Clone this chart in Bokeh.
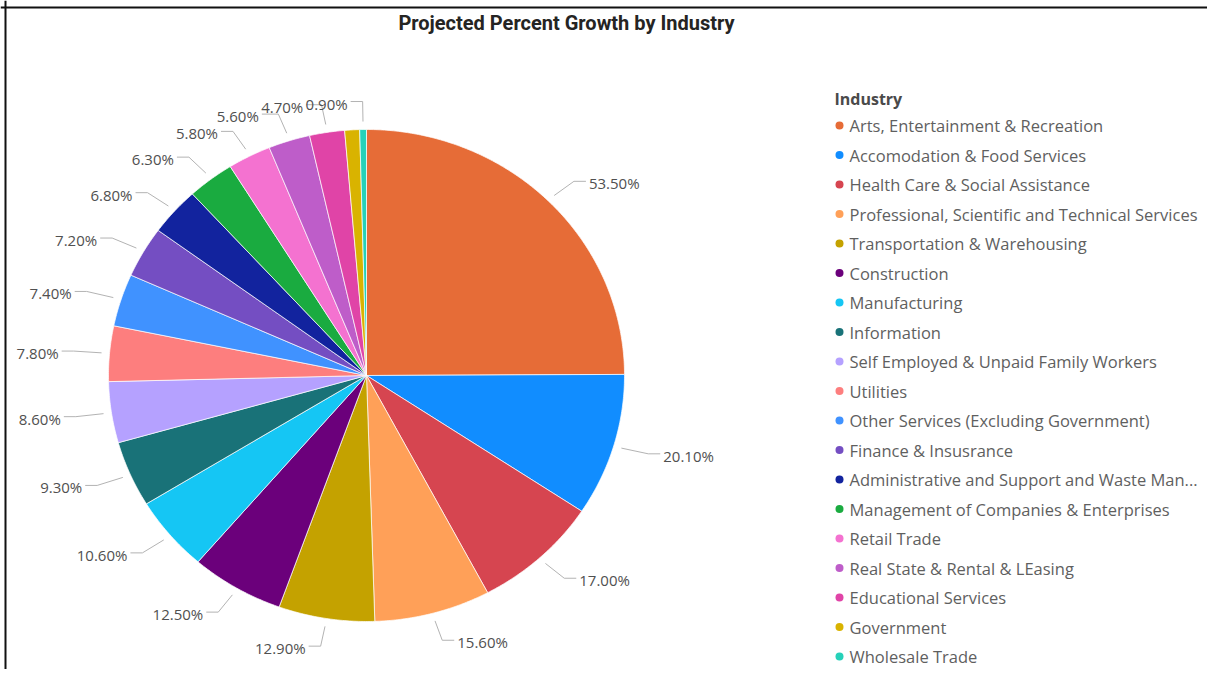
import numpy as np
from bokeh.plotting import figure
from bokeh.models import Range1d, Span
from bokeh.embed import file_html
from bokeh.resources import INLINE
from bokeh.core.properties import value

# ---------------- data ----------------
industries = [
    "Arts, Entertainment & Recreation",
    "Accomodation & Food Services",
    "Health Care & Social Assistance",
    "Professional, Scientific and Technical Services",
    "Transportation & Warehousing",
    "Construction",
    "Manufacturing",
    "Information",
    "Self Employed & Unpaid Family Workers",
    "Utilities",
    "Other Services (Excluding Government)",
    "Finance & Insusrance",
    "Administrative and Support and Waste Man...",
    "Management of Companies & Enterprises",
    "Retail Trade",
    "Real State & Rental & LEasing",
    "Educational Services",
    "Government",
    "Wholesale Trade",
]
growth = [53.5, 20.1, 17.0, 15.6, 12.9, 12.5, 10.6, 9.3, 8.6, 7.8,
          7.4, 7.2, 6.8, 6.3, 5.8, 5.6, 4.7, 2.0, 0.9]
label_shown = [True] * 17 + [False, True]   # Government label hidden in original
colors = ["#E66C37", "#118DFF", "#D64550", "#FFA058", "#C4A200", "#6B007B",
          "#15C6F4", "#197278", "#B5A1FF", "#FD7E7E", "#4092FF", "#744EC2",
          "#12239E", "#1AAB40", "#F472D0", "#BE5DC9", "#E044A7", "#D9B300",
          "#26D1B9"]
chart_title = "Projected Percent Growth by Industry"
legend_title = "Industry"

# ---------------- layout ----------------
W, H = 1207, 669
p = figure(width=W, height=H, x_range=Range1d(0, W), y_range=Range1d(H, 0),
           output_backend="svg", toolbar_location=None, min_border=0,
           x_axis_type=None, y_axis_type=None, title=None)
p.grid.visible = False
p.outline_line_color = None
p.background_fill_color = "white"
p.border_fill_color = "white"

# frame lines (left & top)
p.add_layout(Span(location=5, dimension="height", line_color="#111111", line_width=2))
p.add_layout(Span(location=7, dimension="width", line_color="#111111", line_width=2))

cx, cy, rx, ry = 366, 375, 258, 246
vals = np.array(growth, dtype=float)
frac = vals / vals.sum()
ends = np.cumsum(frac) * 2 * np.pi
starts = ends - frac * 2 * np.pi

xs, ys = [], []
for a0, a1 in zip(starts, ends):
    n = max(3, int((a1 - a0) / (2 * np.pi) * 720))
    t = np.linspace(a0, a1, n)
    xs.append(list(np.r_[cx, cx + rx * np.sin(t)]))
    ys.append(list(np.r_[cy, cy - ry * np.cos(t)]))
p.patches(xs, ys, fill_color=colors, line_color="white", line_width=0.7)

# ---------------- data labels with leader lines ----------------
lab_font = 15
def text_w(s):
    w = 0
    for ch in s:
        w += 0.572 * lab_font if ch.isdigit() else (0.27 * lab_font if ch == "." else 0.84 * lab_font)
    return w

mids = (starts + ends) / 2
labels = [f"{v:.2f}%" for v in growth]
lx, ly, lt, la = [], [], [], []
seg_x, seg_y = [], []

order = [i for i in range(len(growth)) if label_shown[i]]
right = [i for i in order if np.sin(mids[i]) >= 0]
left = sorted([i for i in order if np.sin(mids[i]) < 0], key=lambda i: -mids[i])

def place(i):
    s, c = np.sin(mids[i]), np.cos(mids[i])
    p0 = (cx + (rx + 8) * s, cy - (ry + 8) * c)
    el = (cx + (rx + 36) * s, cy - (ry + 28) * c)
    return p0, el

for i in right:
    p0, el = place(i)
    tx = el[0] + 12
    seg_x.append([p0[0], el[0], tx]); seg_y.append([p0[1], el[1], el[1]])
    lx.append(tx + 3); ly.append(el[1] + 2); lt.append(labels[i]); la.append("left")

prev = None
for i in left:
    p0, el = place(i)
    r_end = el[0] - 15
    w = text_w(labels[i])
    if prev is not None and abs(el[1] - prev[1]) < 14 and r_end > prev[0] - 2:
        r_end = prev[0] - 2
    seg_x.append([p0[0], el[0], r_end + 3]); seg_y.append([p0[1], el[1], el[1]])
    lx.append(r_end); ly.append(el[1] + 2); lt.append(labels[i]); la.append("right")
    prev = (r_end - w, el[1])

p.multi_line(seg_x, seg_y, line_color="#B3B3B3", line_width=1)
p.text(x=lx, y=ly, text=lt, text_align=la, text_baseline="middle",
       text_font=value("Open Sans"), text_font_size=f"{lab_font}px", text_color="#505050")

# ---------------- title ----------------
p.text(x=[566], y=[22], text=[chart_title], text_align="center", text_baseline="middle",
       text_font=value("Roboto"), text_font_style="bold", text_font_size="20px",
       text_color="#252423")

# ---------------- legend ----------------
leg_x, leg_y0, leg_step = 839, 125, 29.5
leg_y = [leg_y0 + leg_step * k for k in range(len(industries))]
p.text(x=[834], y=[98], text=[legend_title], text_align="left", text_baseline="middle",
       text_font=value("Open Sans"), text_font_style="bold", text_font_size="16px",
       text_color="#4A4A4A")
p.scatter(x=[leg_x] * len(industries), y=leg_y, size=8, fill_color=colors, line_color=None)
p.text(x=[leg_x + 10] * len(industries), y=leg_y, text=industries, text_align="left",
       text_baseline="middle", text_font=value("Open Sans"), text_font_size="16.5px",
       text_color="#5F5F5F")

open("out.html", "w").write(file_html(p, INLINE))
